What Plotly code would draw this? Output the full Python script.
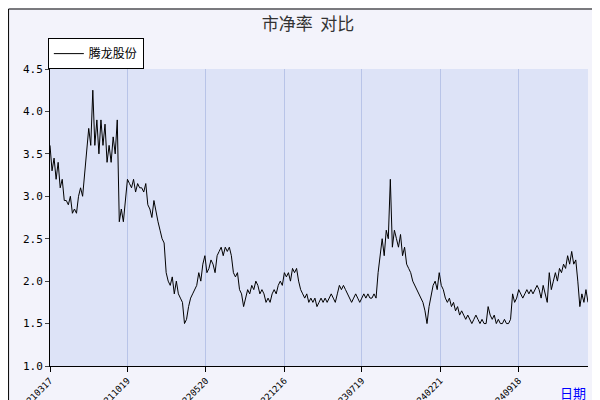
import plotly.graph_objects as go

series_name = "腾龙股份"
pb_values = [3.6,3.3,3.45,3.2,3.4,3.1,3.2,2.95,2.95,2.9,3.0,2.8,2.85,2.8,3.0,3.1,3.0,3.3,3.5,3.8,3.6,4.25,3.6,3.9,3.5,3.9,3.6,3.85,3.4,3.6,3.4,3.7,3.5,3.9,
2.7,2.85,2.7,3.0,3.2,3.15,3.1,3.2,3.05,3.15,3.1,3.1,3.05,3.15,2.9,2.85,2.75,2.95,2.8,2.7,2.6,2.5,2.45,2.1,2.0,1.95,2.05,1.85,2.0,1.85,1.8,1.75,1.5,1.55,1.7,1.8,1.85,1.9,1.95,2.1,2.0,2.2,2.3,2.1,2.15,2.25,2.2,2.1,2.3,2.35,2.4,2.3,2.4,2.35,2.4,2.3,2.1,2.05,2.1,1.9,1.85,1.7,1.8,1.9,1.85,1.95,1.9,2.0,1.95,1.85,1.9,1.85,1.75,1.8,1.75,1.85,1.9,1.85,1.95,2.0,1.95,2.1,2.05,2.1,2.0,2.15,2.1,2.15,2.0,1.9,1.85,1.8,1.85,1.75,1.8,1.75,1.8,1.7,1.75,1.8,1.75,1.8,1.75,1.8,1.85,1.8,1.75,1.85,1.95,1.9,1.95,1.9,1.85,1.8,1.75,1.8,1.85,1.8,1.75,1.8,1.85,1.8,1.85,1.8,1.8,1.85,1.8,2.1,2.3,2.5,2.3,2.6,2.5,3.2,2.4,2.6,2.5,2.4,2.55,2.3,2.4,2.2,2.15,2.1,2.0,1.95,1.9,1.85,1.8,1.75,1.65,1.5,1.7,1.85,1.95,2.0,1.9,2.1,1.95,1.9,1.8,1.75,1.8,1.7,1.75,1.65,1.7,1.6,1.65,1.6,1.55,1.6,1.55,1.5,1.55,1.6,1.55,1.5,1.55,1.5,1.5,1.7,1.6,1.55,1.6,1.5,1.55,1.5,1.5,1.55,1.5,1.5,1.55,1.85,1.75,1.8,1.9,1.85,1.8,1.85,1.9,1.85,1.9,1.85,1.9,1.95,1.9,1.8,1.95,1.85,1.75,2.1,1.9,2.0,2.1,2.0,2.15,2.1,2.2,2.15,2.3,2.2,2.35,2.2,2.25,2.0,1.7,1.85,1.75,1.9,1.75]
tick_labels = ["20210317","20211019","20220520","20221216","20230719","20240221","20240918","20250423"]
tick_positions = [0, 38, 76.5, 115, 153, 191.5, 230, 268]

x = list(range(len(pb_values)))
fig = go.Figure(go.Scatter(x=x, y=pb_values, mode="lines", name=series_name,
                           line=dict(color="black", width=1)))
fig.update_layout(
    width=600, height=400,
    margin=dict(l=42, r=20, t=61, b=42, autoexpand=False),
    paper_bgcolor="#f3f3fb", plot_bgcolor="#dde3f7",
    title=dict(text="市净率  对比", x=0.5, y=0.975, xanchor="center",
               font=dict(family="Noto Sans CJK SC", size=17, color="#333")),
    font=dict(family="DejaVu Sans Mono", size=11, color="black"),
    showlegend=True,
    legend=dict(x=-0.004, y=1.104, xanchor="left", yanchor="top", bgcolor="white",
                bordercolor="black", borderwidth=1, itemwidth=30,
                font=dict(family="Noto Sans CJK SC", size=12)),
    xaxis=dict(range=[0, len(pb_values)-1], tickvals=tick_positions, ticktext=tick_labels,
               tickangle=-45, showgrid=True, gridcolor="#b8c4e8", ticks="outside",
               ticklen=5, tickcolor="black", showline=True, linecolor="black", zeroline=False,
               tickfont=dict(size=9)),
    yaxis=dict(range=[1.0, 4.5], dtick=0.5, tickformat=".1f", showgrid=False,
               ticks="outside", ticklen=4, showline=True, linecolor="black", zeroline=False),
    annotations=[dict(text="日期", x=1.0, y=-0.05, xref="paper", yref="paper",
                      xanchor="right", yanchor="top", showarrow=False,
                      font=dict(color="blue", size=13, family="Noto Sans CJK SC"))],
    shapes=[dict(type="rect", xref="paper", yref="paper", x0=-0.077, y0=-0.138, x1=1.033, y1=1.202,
                 line=dict(color="black", width=1))],
)
fig.write_html("out.html")
